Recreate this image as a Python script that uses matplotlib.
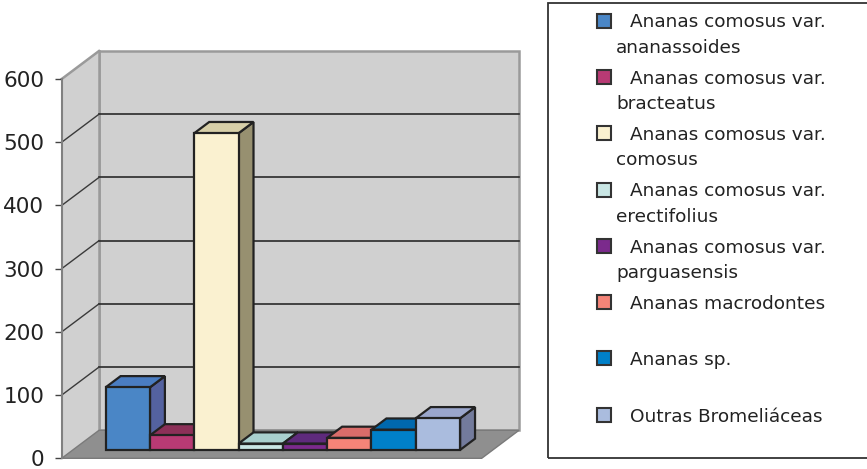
import matplotlib
matplotlib.use("Agg")
import matplotlib.pyplot as plt
from matplotlib.patches import Polygon, Rectangle

# ---- data ----
labels = [
    "Ananas comosus var.\nananassoides",
    "Ananas comosus var.\nbracteatus",
    "Ananas comosus var.\ncomosus",
    "Ananas comosus var.\nerectifolius",
    "Ananas comosus var.\nparguasensis",
    "Ananas macrodontes",
    "Ananas sp.",
    "Outras Bromeliáceas",
]
values = [99, 23, 501, 10, 10, 19, 32, 50]
front_colors = ["#4a86c6", "#b83a74", "#faf1d0", "#c9e6e4", "#7b2a8c", "#f58478", "#0080c8", "#aabcde"]
top_colors = ["#4a7dc2", "#8c3058", "#d7cfa8", "#a9d0ce", "#5e2a7c", "#d96c6a", "#0068ae", "#9aa6cc"]
side_colors = ["#5462a0", "#7a2a50", "#979070", "#8aaaa8", "#4e2266", "#b05a58", "#005890", "#737b9c"]
yticks = [0, 100, 200, 300, 400, 500, 600]

W, H = 867, 469
fig = plt.figure(figsize=(W / 100, H / 100), dpi=100)
fig.patch.set_facecolor("white")

ax = fig.add_axes([61.7 / W, 10.7 / H, 420 / W, 379.3 / H])
x0, x1 = -0.74, len(values) - 1 + 1.74
ymax = yticks[-1]
ax.set_xlim(x0, x1)
ax.set_ylim(0, ymax)
ax.patch.set_visible(False)

DX, DY = 0.842, 44.3  # depth offsets in data units
wall = "#d0d0d0"

# back wall
ax.add_patch(Rectangle((x0 + DX, DY), x1 - x0, ymax, fc=wall, ec="#9a9a9a", lw=1.8,
                       clip_on=False, zorder=1))
# left wall
ax.add_patch(Polygon([(x0, 0), (x0 + DX, DY), (x0 + DX, ymax + DY), (x0, ymax)],
                     closed=True, fc=wall, ec="none", clip_on=False, zorder=1))
ax.plot([x0 + DX, x0 + DX], [DY, ymax + DY], color="#9a9a9a", lw=1.8, zorder=1.2, clip_on=False)
# floor
ax.add_patch(Polygon([(x0, 0), (x1, 0), (x1 + DX, DY), (x0 + DX, DY)], closed=True,
                     fc="#8f8f8f", ec="#7a7a7a", lw=1, clip_on=False, zorder=2))
# gridlines
for t in yticks[1:-1]:
    ax.plot([x0 + DX, x1 + DX], [t + DY, t + DY], color="#2a2a2a", lw=1.2, zorder=1.5, clip_on=False)
    ax.plot([x0, x0 + DX], [t, t + DY], color="#3a3a3a", lw=1, zorder=1.5, clip_on=False)
ax.plot([x0, x0 + DX], [ymax, ymax + DY], color="#9a9a9a", lw=1.8, zorder=1.5, clip_on=False)

# bars
f0, f1 = 0.3, 0.7
ddx, ddy = (f1 - f0) * DX, (f1 - f0) * DY
edge = "#222222"
for i, v in enumerate(values):
    xl = i + f0 * DX
    xr = xl + 1
    yb = f0 * DY
    yt = v + f0 * DY
    z = 3 + i * 0.1
    kw = dict(closed=True, ec=edge, lw=1.6, joinstyle="miter", clip_on=False, zorder=z)
    ax.add_patch(Polygon([(xr, yb), (xr + ddx, yb + ddy), (xr + ddx, yt + ddy), (xr, yt)],
                         fc=side_colors[i], **kw))
    ax.add_patch(Polygon([(xl, yt), (xr, yt), (xr + ddx, yt + ddy), (xl + ddx, yt + ddy)],
                         fc=top_colors[i], **kw))
    ax.add_patch(Polygon([(xl, yb), (xr, yb), (xr, yt), (xl, yt)], fc=front_colors[i], **kw))

# axis styling
for s in ["top", "right", "bottom"]:
    ax.spines[s].set_visible(False)
ax.spines["left"].set_color("#808080")
ax.spines["left"].set_linewidth(1.5)
ax.spines["left"].set_zorder(2.5)
ax.set_xticks([])
ax.set_yticks(yticks)
ax.set_yticklabels([str(t) for t in yticks])
ax.tick_params(axis="y", direction="out", length=5, width=1, color="#444444",
               labelsize=15.5, labelcolor="#222222", pad=7.5)

# legend box
fig.add_artist(Rectangle((548.3 / W, 11 / H), (900 - 548.3) / W, (465.7 - 11) / H,
                         transform=fig.transFigure, fill=False, ec="#333333", lw=1.3))
for i, lab in enumerate(labels):
    c = 20.7 + i * 56.3  # center of first line, px from top
    fig.add_artist(Rectangle((596.7 / W, (H - c - 7) / H), 14 / W, 14 / H,
                             transform=fig.transFigure, fc=front_colors[i], ec="#333333", lw=1.5))
    lines = lab.split("\n")
    fig.text(630 / W, (H - c - 6.7) / H, lines[0], fontsize=13.3, color="#222222", va="baseline")
    for j, ln in enumerate(lines[1:]):
        fig.text(616 / W, (H - c - 6.7 - 25.3 * (j + 1)) / H, ln, fontsize=13.3,
                 color="#222222", va="baseline")

fig.savefig("out.png", dpi=100, facecolor="white")
